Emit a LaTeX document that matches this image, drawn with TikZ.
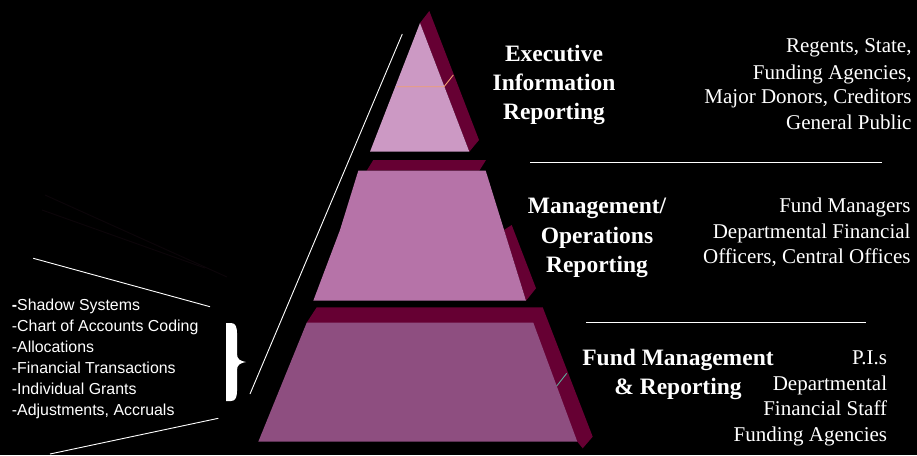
\documentclass[tikz,border=0pt]{standalone}
\usepackage{fontspec}
\setmainfont{Liberation Serif}
\newfontfamily\arialf{Liberation Sans}
\definecolor{shadowc}{HTML}{660033}
\definecolor{topc}{HTML}{CC99C4}
\definecolor{midc}{HTML}{B673A8}
\definecolor{botc}{HTML}{8E4E80}
\definecolor{salmon}{HTML}{F0A070}
\definecolor{tealc}{HTML}{5FA898}
\definecolor{faint}{HTML}{0C0509}
\tikzset{
  tier/.style={draw=none},
  wline/.style={draw=white,line width=0.9pt},
  boldlbl/.style={inner sep=0pt,text=white,font=\fontsize{23.5}{29}\selectfont\bfseries},
  reglbl/.style={inner sep=0pt,text=white,font=\fontsize{21}{25}\selectfont},
  leftlbl/.style={inner sep=0pt,text=white,font=\arialf\fontsize{15.9}{21}\selectfont},
}
\begin{document}
\begin{tikzpicture}[x=1pt,y=-1pt]
\useasboundingbox (0,0) rectangle (917,455);
\fill[black] (0,0) rectangle (917,455);

% faint dark lines
\draw[faint,line width=1pt] (45,195) -- (227,277);
\draw[faint,line width=1pt] (42,210) -- (205,268);

% top tier
\fill[shadowc] (420,23) -- (429.3,11) -- (479,140) -- (469.3,151.7) -- cycle;
\fill[topc] (420,23) -- (469.3,151.7) -- (370,151.7) -- cycle;
\draw[salmon,line width=0.9pt] (396.7,86.7) -- (444,86.7) -- (453.3,75);

% middle tier
\fill[shadowc] (366.7,170.7) -- (373.3,160) -- (486,160) -- (479.3,170.7) -- cycle;
\fill[shadowc] (504,230) -- (511.7,225) -- (536,288.3) -- (526,300.7) -- cycle;
\fill[midc] (358.3,170.7) -- (485.7,170.7) -- (526,300.7) -- (313.3,300.7) -- (340,230) -- cycle;

% bottom tier
\fill[shadowc] (306.7,322.7) -- (316.7,307.3) -- (542.7,307.3) -- (592.7,436.7) -- (582.7,448.3) -- (577.3,441.7) -- cycle;
\fill[botc] (306.7,322.7) -- (533.3,322.7) -- (577.3,441.7) -- (258.3,441.7) -- cycle;
\draw[tealc,line width=0.9pt] (556.7,386) -- (566.7,373.3);

% white lines
\coordinate (la) at (402.3,34);
\coordinate (lb) at (250,394);
\coordinate (r1a) at (530,162.3);
\coordinate (r1b) at (881.7,162.3);
\coordinate (r2a) at (586,322.3);
\coordinate (r2b) at (866,322.3);
\coordinate (l1a) at (33.3,258.3);
\coordinate (l1b) at (210,306.7);
\coordinate (l2a) at (218.3,418.3);
\coordinate (l2b) at (50,454);
\draw[wline] (la) -- (lb);
\draw[wline] (r1a) -- (r1b);
\draw[wline] (r2a) -- (r2b);
\draw[wline] (l1a) -- (l1b);
\draw[wline] (l2a) -- (l2b);

% brace
\fill[white] (226,323) -- (231,323) .. controls (235.5,323) and (237,327) .. (237,333)
  -- (237,354) .. controls (237,359) and (240,361) .. (246,362)
  .. controls (240,363) and (237,365) .. (237,370)
  -- (237,391) .. controls (237,397) and (235.5,401) .. (231,401)
  -- (226,401) -- cycle;

% tier labels
\node[boldlbl,anchor=base] (e1) at (554,61.7) {Executive};
\node[boldlbl,anchor=base] (e2) at (554,90.7) {Information};
\node[boldlbl,anchor=base] (e3) at (554,119.5) {Reporting};

\node[boldlbl,anchor=base] (m1) at (597,213.3) {Management/};
\node[boldlbl,anchor=base] (m2) at (597,243.3) {Operations};
\node[boldlbl,anchor=base] (m3) at (597,272.3) {Reporting};

\node[boldlbl,anchor=base] (f1) at (678,365.7) {Fund Management};
\node[boldlbl,anchor=base] (f2) at (678,394) {\& Reporting};

% audience labels
\node[reglbl,anchor=base east] (a1) at (911.7,52.3) {Regents, State,};
\node[reglbl,anchor=base east] (a2) at (911.7,79) {Funding Agencies,};
\node[reglbl,anchor=base east] (a3) at (911.7,103.8) {Major Donors, Creditors};
\node[reglbl,anchor=base east] (a4) at (911.7,129) {General Public};

\node[reglbl,anchor=base east] (b1) at (910.7,212.3) {Fund Managers};
\node[reglbl,anchor=base east] (b2) at (910.7,238.3) {Departmental Financial};
\node[reglbl,anchor=base east] (b3) at (910.7,263.3) {Officers, Central Offices};

\node[reglbl,anchor=base east] (c1) at (887.3,364.3) {P.I.s};
\node[reglbl,anchor=base east] (c2) at (887.3,390.7) {Departmental};
\node[reglbl,anchor=base east] (c3) at (887.3,415) {Financial Staff};
\node[reglbl,anchor=base east] (c4) at (887.3,441) {Funding Agencies};

% left list
\node[leftlbl,anchor=base west] (s1) at (11.7,310) {\textbf{-}Shadow Systems};
\node[leftlbl,anchor=base west] (s2) at (11.7,331) {-Chart of Accounts Coding};
\node[leftlbl,anchor=base west] (s3) at (11.7,352) {-Allocations};
\node[leftlbl,anchor=base west] (s4) at (11.7,373.5) {-Financial Transactions};
\node[leftlbl,anchor=base west] (s5) at (11.7,394.7) {-Individual Grants};
\node[leftlbl,anchor=base west] (s6) at (11.7,415.7) {-Adjustments, Accruals};
\end{tikzpicture}
\end{document}
